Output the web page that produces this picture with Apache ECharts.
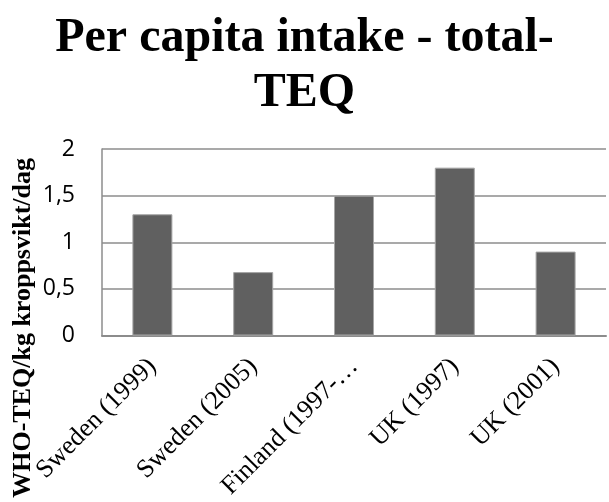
<!DOCTYPE html>
<html>
<head>
<meta charset="utf-8">
<script src="https://cdn.jsdelivr.net/npm/echarts@6/dist/echarts.min.js"></script>
<style>
  html, body { margin: 0; padding: 0; background: #fff; }
  #grafico { width: 609px; height: 502px; }
</style>
</head>
<body>
<div id="grafico"></div>
<script>
// datos del grafico
var categorias = ['Sweden (1999)', 'Sweden (2005)', 'Finland (1997-\u2026', 'UK (1997)', 'UK (2001)'];
var valores = [1.3, 0.68, 1.5, 1.8, 0.9];
var ticks_y = [0, 0.5, 1, 1.5, 2];

var color_barra = '#606060';
var color_linea = '#8c8c8c';

var chart = echarts.init(document.getElementById('grafico'));

var option = {
    animation: false,
    title: {
        text: 'Per capita intake - total-\nTEQ',
        left: 'center',
        top: 6,
        textStyle: {
            fontFamily: 'Liberation Serif',
            fontWeight: 'bold',
            fontSize: 48,
            lineHeight: 55,
            color: '#000'
        }
    },
    graphic: [
        {
            type: 'text',
            left: 10,
            top: 158,
            rotation: Math.PI / 2,
            style: {
                text: 'WHO-TEQ/kg kroppsvikt/dag',
                font: 'bold 26px "Liberation Serif"',
                fill: '#000'
            }
        }
    ],
    grid: {
        left: 102,
        right: 3,
        top: 149,
        bottom: 164
    },
    xAxis: {
        type: 'category',
        data: categorias,
        axisTick: { show: false },
        axisLine: { lineStyle: { color: color_linea, width: 2 } },
        axisLabel: {
            rotate: 45,
            margin: 27,
            interval: 0,
            fontFamily: 'Liberation Serif',
            fontSize: 26,
            color: '#000'
        }
    },
    yAxis: {
        type: 'value',
        min: ticks_y[0],
        max: ticks_y[ticks_y.length - 1],
        interval: 0.5,
        axisLine: { show: true, lineStyle: { color: color_linea, width: 1.5 } },
        axisTick: { show: false },
        splitLine: { lineStyle: { color: color_linea, width: 1.5 } },
        axisLabel: {
            margin: 27,
            fontFamily: 'Open Sans',
            fontSize: 23,
            color: '#000',
            formatter: function(v) { return String(v).replace('.', ','); }
        }
    },
    series: [
        {
            type: 'bar',
            data: valores,
            barWidth: 40,
            itemStyle: {
                color: color_barra,
                borderColor: '#a6a6a6',
                borderWidth: 1
            }
        }
    ]
};

chart.setOption(option);
</script>
</body>
</html>
